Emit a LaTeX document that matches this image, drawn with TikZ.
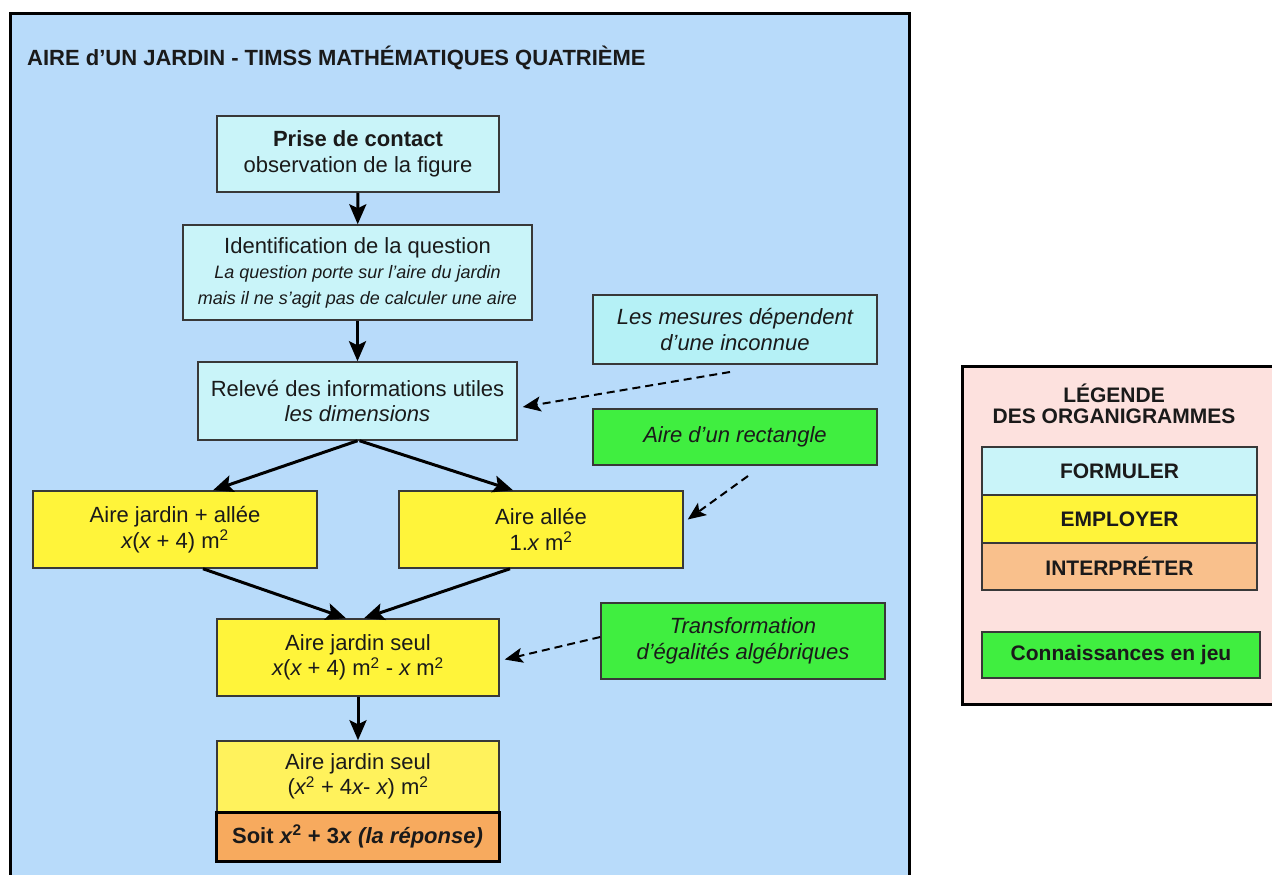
\documentclass[tikz,border=0pt]{standalone}
\usepackage{fontspec}
\setmainfont{Liberation Sans}
\usetikzlibrary{arrows.meta}

% palette
\definecolor{panel}{HTML}{B8DBFA}
\definecolor{formcol}{HTML}{C9F4F9}
\definecolor{formdeep}{HTML}{B5F1F6}
\definecolor{empcol}{HTML}{FFF43A}
\definecolor{emplight}{HTML}{FFF25C}
\definecolor{knowcol}{HTML}{40EE40}
\definecolor{answer}{HTML}{F7AA5E}
\definecolor{interp}{HTML}{F9C08C}
\definecolor{legbg}{HTML}{FDE1DE}
\definecolor{boxline}{HTML}{383838}
\definecolor{ink}{HTML}{1A1A1A}

\newcommand{\smallit}[1]{{\fontsize{18}{24}\selectfont\itshape #1}}
\newcommand{\vx}{{\itshape x}}

\tikzset{
  box/.style={draw=boxline, line width=1.5pt, align=center, text=ink, inner sep=2pt,
              font=\fontsize{22}{25.5}\selectfont},
  sz/.style 2 args={minimum width=#1pt, minimum height=#2pt},
  formbox/.style={box, fill=formcol},
  empbox/.style={box, fill=empcol},
  knowbox/.style={box, fill=knowcol, font=\fontsize{22}{25.5}\selectfont\itshape},
  legband/.style={draw=boxline, line width=1.5pt, text=ink, inner sep=0pt,
              font=\bfseries\fontsize{21}{24}\selectfont},
  arr/.style={draw=black, line width=3pt, -{Stealth[length=20pt,width=17pt,inset=4pt]}},
  darr/.style={draw=black, line width=2pt, dash pattern=on 8pt off 5pt,
              -{Stealth[length=18pt,width=15pt,inset=4pt]}},
}

\begin{document}
\begin{tikzpicture}[x=1pt,y=-1pt]
  \useasboundingbox (0,0) rectangle (1272,875);
  \clip (0,0) rectangle (1272,875);
  \fill[white] (0,0) rectangle (1272,875);

  % main panel
  \draw[line width=3pt, fill=panel] (10,14) rectangle (909,890);
  \node[anchor=west, inner sep=0pt, text=ink, font=\bfseries\fontsize{22}{24}\selectfont]
    (title) at (27,58) {AIRE d’UN JARDIN - TIMSS MATHÉMATIQUES QUATRIÈME};

  % flow boxes
  \node[formbox, sz={282}{76}] (b1) at (358,154)
    {\textbf{Prise de contact}\\observation de la figure};
  \node[formbox, sz={349}{95}] (b2) at (357.5,272.5)
    {Identification de la question\\
     \smallit{La question porte sur l’aire du jardin}\\
     \smallit{mais il ne s’agit pas de calculer une aire}};
  \node[formbox, sz={319}{78}] (b3) at (357.5,401)
    {Relevé des informations utiles\\\textit{les dimensions}};
  \node[empbox, sz={284}{77}] (b4) at (175,529.5)
    {Aire jardin + allée\\\vx(\vx{} + 4) m\textsuperscript{2}};
  \node[empbox, sz={284}{77}] (b5) at (541,529.5)
    {Aire allée\\1.\vx{} m\textsuperscript{2}};
  \node[empbox, sz={282}{77}] (b6) at (358,657.5)
    {Aire jardin seul\\\vx(\vx{} + 4) m\textsuperscript{2} - \vx{} m\textsuperscript{2}};
  \node[box, fill=emplight, sz={282}{71}] (b7) at (358,776.5)
    {Aire jardin seul\\(\vx\textsuperscript{2} + 4\vx- \vx) m\textsuperscript{2}};
  \node[box, fill=answer, draw=black, line width=3pt, sz={283}{49},
        font=\bfseries\fontsize{22}{25.5}\selectfont] (ans) at (357.5,836.5)
    {Soit \textit{x}\textsuperscript{2} + 3\textit{x} \textit{(la réponse)}};

  % side boxes
  \node[box, fill=formdeep, sz={284}{69}, font=\fontsize{22}{25.5}\selectfont\itshape]
    (mes) at (735,329.5) {Les mesures dépendent\\d’une inconnue};
  \node[knowbox, sz={284}{56}] (rect) at (735,437) {Aire d’un rectangle};
  \node[knowbox, sz={284}{76}] (trans) at (743,641)
    {Transformation\\d’égalités algébriques};

  % solid connectors
  \draw[arr] (b1) -- (b2);
  \draw[arr] (b2) -- (b3);
  \draw[arr] (b3.south) -- ([xshift=38pt]b4.north);
  \draw[arr] ([xshift=2pt]b3.south) -- ([xshift=-28pt]b5.north);
  \draw[arr] ([xshift=28pt]b4.south) -- ([xshift=-12pt]b6.north);
  \draw[arr] ([xshift=-31pt]b5.south) -- ([xshift=6pt]b6.north);
  \draw[arr] (b6) -- (b7);

  % dashed connectors
  \coordinate (mesfoot) at (730,372);
  \coordinate (rectfoot) at (748,476);
  \draw[darr] (mesfoot) -- ([xshift=5pt,yshift=-6pt]b3.east);
  \draw[darr] (rectfoot) -- ([xshift=4pt,yshift=10pt]b5.east);
  \draw[darr] ([yshift=4pt]trans.west) -- ([xshift=5pt,yshift=-2pt]b6.east);

  % legend
  \draw[line width=3pt, fill=legbg] (962,366) rectangle (1280,704);
  \node[align=center, inner sep=0pt, text=ink, font=\bfseries\fontsize{21}{21.5}\selectfont]
    (legtitle) at (1114,404) {LÉGENDE\\DES ORGANIGRAMMES};
  \node[legband, fill=formcol, sz={275}{48}] (lform) at (1119.5,471) {FORMULER};
  \node[legband, fill=empcol, sz={275}{48}] (lemp) at (1119.5,519) {EMPLOYER};
  \node[legband, fill=interp, sz={275}{47}] (lint) at (1119.5,566.5) {INTERPRÉTER};
  \node[legband, fill=knowcol, sz={278}{46}] (lknow) at (1121,655) {Connaissances en jeu};
\end{tikzpicture}
\end{document}
